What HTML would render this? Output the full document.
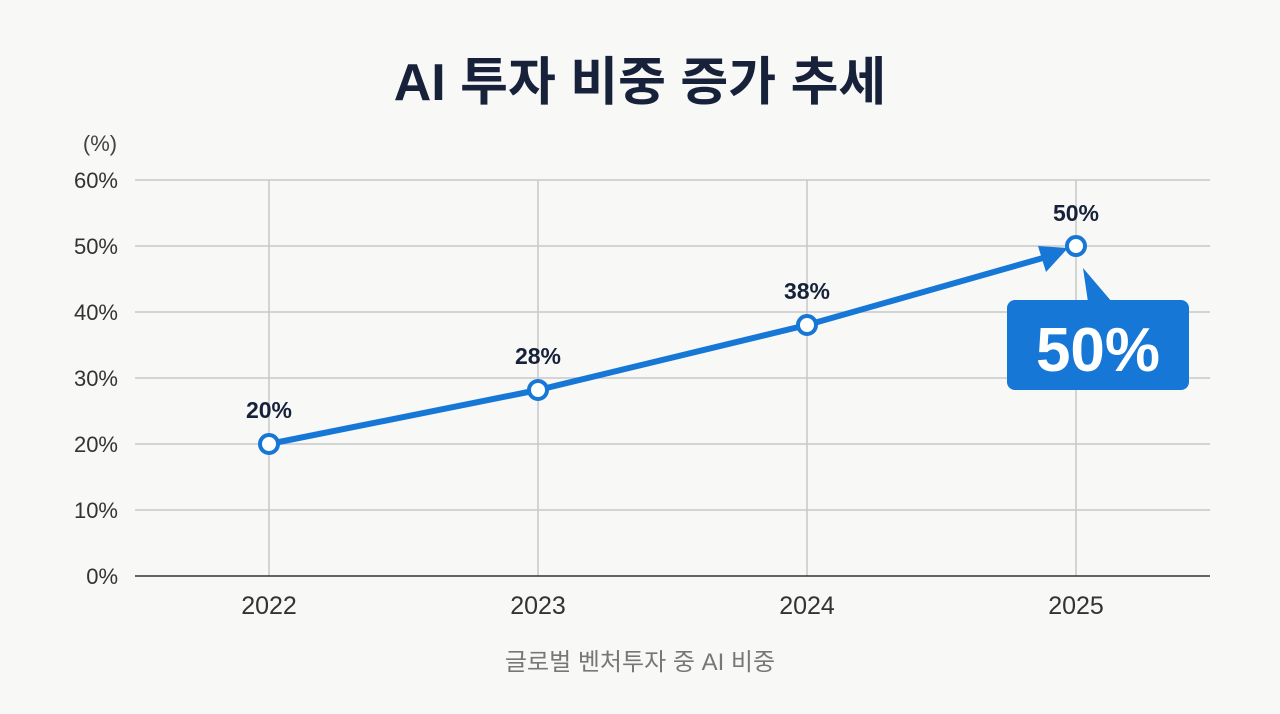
<!DOCTYPE html>
<html><head><meta charset="utf-8"><style>
html,body{margin:0;padding:0;background:#f8f8f6;}
svg{display:block;}
text{font-family:"Liberation Sans","Noto Sans CJK KR",sans-serif;}
</style></head><body>
<svg width="1280" height="714" viewBox="0 0 1280 714">
<rect width="1280" height="714" fill="#f8f8f6"/>
<text x="640" y="100" text-anchor="middle" font-size="52" font-weight="bold" fill="#17223a">AI 투자 비중 증가 추세</text>
<text x="100" y="151" text-anchor="middle" font-size="22" fill="#444">(%)</text>
<g stroke="#c8c8c8" stroke-width="1.5">
<line x1="135" y1="180" x2="1210" y2="180"/>
<line x1="135" y1="246" x2="1210" y2="246"/>
<line x1="135" y1="312" x2="1210" y2="312"/>
<line x1="135" y1="378" x2="1210" y2="378"/>
<line x1="135" y1="444" x2="1210" y2="444"/>
<line x1="135" y1="510" x2="1210" y2="510"/>
<line x1="269" y1="180" x2="269" y2="576"/>
<line x1="538" y1="180" x2="538" y2="576"/>
<line x1="807" y1="180" x2="807" y2="576"/>
<line x1="1076" y1="180" x2="1076" y2="576"/>
</g>
<line x1="135" y1="576" x2="1210" y2="576" stroke="#333" stroke-width="1.5"/>
<g font-size="22" fill="#333" text-anchor="end">
<text x="118" y="188">60%</text><text x="118" y="254">50%</text><text x="118" y="320">40%</text>
<text x="118" y="386">30%</text><text x="118" y="452">20%</text><text x="118" y="518">10%</text><text x="118" y="584">0%</text>
</g>
<g font-size="25" fill="#333" text-anchor="middle">
<text x="269" y="614">2022</text><text x="538" y="614">2023</text><text x="807" y="614">2024</text><text x="1076" y="614">2025</text>
</g>
<text x="640" y="670" text-anchor="middle" font-size="24" fill="#777">글로벌 벤처투자 중 AI 비중</text>
<polyline points="269,444 538,390 807,325 1050,256" fill="none" stroke="#1677d6" stroke-width="6" stroke-linejoin="round"/>
<polygon points="1068,248 1038,246 1046,272" fill="#1677d6"/>
<g fill="#fff" stroke="#1677d6" stroke-width="4">
<circle cx="269" cy="444" r="9"/><circle cx="538" cy="390" r="9"/><circle cx="807" cy="325" r="9"/><circle cx="1076" cy="246" r="9"/>
</g>
<g font-size="23" font-weight="bold" fill="#17223a" text-anchor="middle">
<text x="269" y="418">20%</text><text x="538" y="364">28%</text><text x="807" y="299">38%</text><text x="1076" y="221">50%</text>
</g>
<polygon points="1083,268 1088,302 1112,302" fill="#1677d6"/>
<rect x="1007" y="300" width="182" height="90" rx="8" fill="#1677d6"/>
<text x="1098" y="371" text-anchor="middle" font-size="62" font-weight="bold" fill="#fff">50%</text>
</svg>
</body></html>
